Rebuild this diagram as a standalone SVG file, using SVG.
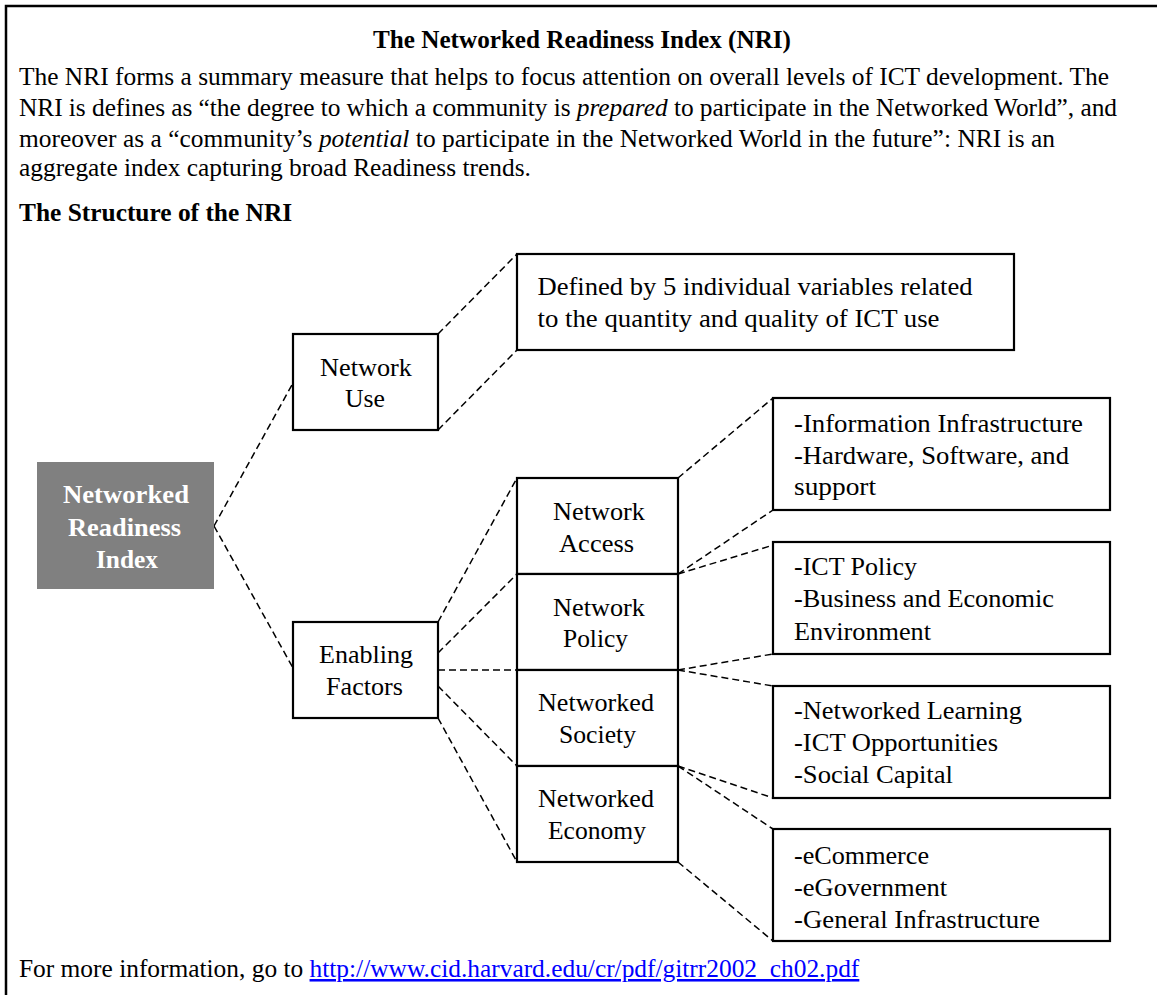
<svg xmlns="http://www.w3.org/2000/svg" width="1157" height="995" viewBox="0 0 1157 995">
<style>
.body{font-family:"Liberation Serif","Times New Roman",serif;font-size:25.4px;fill:#000}
.bold{font-weight:bold}
.box{fill:#fff;stroke:#000;stroke-width:2.2}
.lbl{font-family:"Liberation Serif","Times New Roman",serif;font-size:26px;fill:#000}
.wh{fill:#fff;font-weight:bold}
.conn line{stroke:#000;stroke-width:1.5;stroke-dasharray:7 4;fill:none}
.link{fill:#0000FF;text-decoration:underline}
</style>
<rect x="6" y="6" width="1170" height="1010" fill="#fff" stroke="#000" stroke-width="2.5"/>
<g id="header">
<text class="body bold" x="373" y="48" textLength="418" lengthAdjust="spacingAndGlyphs">The Networked Readiness Index (NRI)</text>
<text class="body" x="19" y="85" textLength="1090">The NRI forms a summary measure that helps to focus attention on overall levels of ICT development. The</text>
<text class="body" x="19" y="116" textLength="1098">NRI is defines as “the degree to which a community is <tspan font-style="italic">prepared</tspan> to participate in the Networked World”, and</text>
<text class="body" x="19" y="147" textLength="1036">moreover as a “community’s <tspan font-style="italic">potential</tspan> to participate in the Networked World in the future”: NRI is an</text>
<text class="body" x="19" y="176">aggregate index capturing broad Readiness trends.</text>
<text class="body bold" x="19" y="221">The Structure of the NRI</text>
</g>
<g class="conn" id="connectors">
<line x1="214" y1="526" x2="293" y2="383"/>
<line x1="214" y1="526" x2="293" y2="668"/>
<line x1="438" y1="334" x2="517" y2="254"/>
<line x1="438" y1="430" x2="517" y2="350"/>
<line x1="438" y1="622" x2="517" y2="478"/>
<line x1="438" y1="653" x2="517" y2="574"/>
<line x1="438" y1="670" x2="517" y2="670"/>
<line x1="438" y1="686" x2="517" y2="766"/>
<line x1="438" y1="718" x2="517" y2="862"/>
<line x1="678" y1="478" x2="773" y2="398"/>
<line x1="678" y1="574" x2="773" y2="510"/>
<line x1="678" y1="574" x2="780" y2="543"/>
<line x1="678" y1="670" x2="773" y2="654"/>
<line x1="678" y1="670" x2="773" y2="686"/>
<line x1="678" y1="766" x2="773" y2="798"/>
<line x1="678" y1="766" x2="773" y2="829"/>
<line x1="678" y1="862" x2="773" y2="941"/>
</g>
<g id="nri">
<rect x="37" y="462" width="177" height="127" fill="#808080"/>
<text class="lbl wh" x="63" y="503" textLength="126" lengthAdjust="spacingAndGlyphs">Networked</text>
<text class="lbl wh" x="68" y="536" textLength="113" lengthAdjust="spacingAndGlyphs">Readiness</text>
<text class="lbl wh" x="96" y="568" textLength="62" lengthAdjust="spacingAndGlyphs">Index</text>
</g>
<g id="network-use">
<rect class="box" x="293" y="334" width="145" height="96"/>
<text class="lbl" x="320" y="376" textLength="92" lengthAdjust="spacingAndGlyphs">Network</text>
<text class="lbl" x="345" y="407" textLength="40" lengthAdjust="spacingAndGlyphs">Use</text>
</g>
<g id="enabling-factors">
<rect class="box" x="293" y="622" width="145" height="96"/>
<text class="lbl" x="319" y="663" textLength="94" lengthAdjust="spacingAndGlyphs">Enabling</text>
<text class="lbl" x="326" y="695" textLength="77" lengthAdjust="spacingAndGlyphs">Factors</text>
</g>
<g id="network-use-def">
<rect class="box" x="517" y="254" width="497" height="96"/>
<text class="lbl" x="537.5" y="295" textLength="435" lengthAdjust="spacingAndGlyphs">Defined by 5 individual variables related</text>
<text class="lbl" x="537.5" y="327" textLength="402" lengthAdjust="spacingAndGlyphs">to the quantity and quality of ICT use</text>
</g>
<g id="network-access">
<rect class="box" x="517" y="478" width="161" height="96"/>
<text class="lbl" x="553" y="520" textLength="92" lengthAdjust="spacingAndGlyphs">Network</text>
<text class="lbl" x="559" y="552" textLength="75" lengthAdjust="spacingAndGlyphs">Access</text>
</g>
<g id="network-policy">
<rect class="box" x="517" y="574" width="161" height="96"/>
<text class="lbl" x="553" y="616" textLength="92" lengthAdjust="spacingAndGlyphs">Network</text>
<text class="lbl" x="563" y="647" textLength="65" lengthAdjust="spacingAndGlyphs">Policy</text>
</g>
<g id="networked-society">
<rect class="box" x="517" y="670" width="161" height="96"/>
<text class="lbl" x="538" y="711" textLength="116" lengthAdjust="spacingAndGlyphs">Networked</text>
<text class="lbl" x="559" y="743" textLength="77" lengthAdjust="spacingAndGlyphs">Society</text>
</g>
<g id="networked-economy">
<rect class="box" x="517" y="766" width="161" height="96"/>
<text class="lbl" x="538" y="807" textLength="116" lengthAdjust="spacingAndGlyphs">Networked</text>
<text class="lbl" x="548" y="839" textLength="98" lengthAdjust="spacingAndGlyphs">Economy</text>
</g>
<g id="access-detail">
<rect class="box" x="773" y="398" width="337" height="112"/>
<text class="lbl" x="794" y="432" textLength="289" lengthAdjust="spacingAndGlyphs">-Information Infrastructure</text>
<text class="lbl" x="794" y="464" textLength="275" lengthAdjust="spacingAndGlyphs">-Hardware, Software, and</text>
<text class="lbl" x="794" y="495" textLength="82" lengthAdjust="spacingAndGlyphs">support</text>
</g>
<g id="policy-detail">
<rect class="box" x="773" y="542" width="337" height="112"/>
<text class="lbl" x="794" y="575" textLength="123" lengthAdjust="spacingAndGlyphs">-ICT Policy</text>
<text class="lbl" x="794" y="607" textLength="260" lengthAdjust="spacingAndGlyphs">-Business and Economic</text>
<text class="lbl" x="794" y="640" textLength="137" lengthAdjust="spacingAndGlyphs">Environment</text>
</g>
<g id="society-detail">
<rect class="box" x="773" y="686" width="337" height="112"/>
<text class="lbl" x="794" y="719" textLength="228" lengthAdjust="spacingAndGlyphs">-Networked Learning</text>
<text class="lbl" x="794" y="751" textLength="204" lengthAdjust="spacingAndGlyphs">-ICT Opportunities</text>
<text class="lbl" x="794" y="783" textLength="159" lengthAdjust="spacingAndGlyphs">-Social Capital</text>
</g>
<g id="economy-detail">
<rect class="box" x="773" y="829" width="337" height="112"/>
<text class="lbl" x="794" y="864" textLength="135" lengthAdjust="spacingAndGlyphs">-eCommerce</text>
<text class="lbl" x="794" y="896" textLength="153" lengthAdjust="spacingAndGlyphs">-eGovernment</text>
<text class="lbl" x="794" y="928" textLength="246" lengthAdjust="spacingAndGlyphs">-General Infrastructure</text>
</g>
<g id="footer">
<text class="body" x="19" y="977">For more information, go to <tspan class="link">http://www.cid.harvard.edu/cr/pdf/gitrr2002_ch02.pdf</tspan></text>
</g>
</svg>
